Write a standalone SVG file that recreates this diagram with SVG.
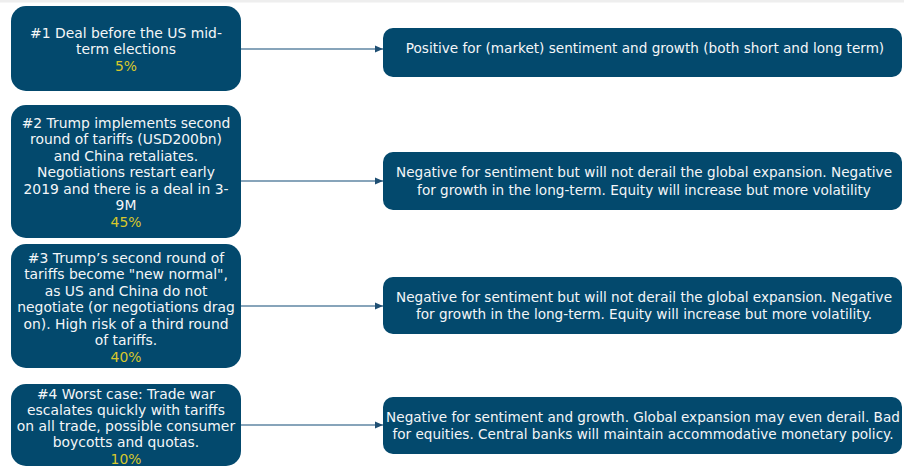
<svg xmlns="http://www.w3.org/2000/svg" width="904" height="467" viewBox="0 0 904 467">
<style>
  .box { fill: #03496d; }
  .t { font-family: "DejaVu Sans", "Liberation Sans", sans-serif; font-size: 13.6px; fill: #f4f6f8; text-anchor: middle; }
  .l { font-size: 13.9px; }
  .p { fill: #d8c72c; }
  .conn { stroke: #5f86a3; stroke-width: 1.3; fill: none; marker-end: url(#arr); }
</style>
<defs>
  <marker id="arr" viewBox="0 0 8 8" refX="8" refY="4" markerWidth="8" markerHeight="8" markerUnits="userSpaceOnUse" orient="auto">
    <path d="M0,0.5 L8,4 L0,7.5 z" fill="#1f4f73"/>
  </marker>
</defs>
<rect x="0" y="0" width="904" height="467" fill="#ffffff"/>
<rect x="0" y="0" width="904" height="2.5" fill="#eeeeee"/>

<g id="connectors">
  <line class="conn" x1="241" y1="49" x2="383" y2="49"/>
  <line class="conn" x1="241" y1="181" x2="383" y2="181"/>
  <line class="conn" x1="241" y1="306" x2="383" y2="306"/>
  <line class="conn" x1="241" y1="425" x2="383" y2="425"/>
</g>

<g id="s1">
  <rect class="box" x="11" y="6" width="230" height="85" rx="15"/>
  <text class="t l" x="126" y="37.5">#1 Deal before the US mid-</text>
  <text class="t l" x="126" y="54">term elections</text>
  <text class="t l p" x="126" y="70.5">5%</text>
</g>

<g id="s2">
  <rect class="box" x="11" y="105" width="230" height="133" rx="15"/>
  <text class="t l" x="126" y="127.5">#2 Trump implements second</text>
  <text class="t l" x="126" y="144">round of tariffs (USD200bn)</text>
  <text class="t l" x="126" y="160.5">and China retaliates.</text>
  <text class="t l" x="126" y="177">Negotiations restart early</text>
  <text class="t l" x="126" y="193.5">2019 and there is a deal in 3-</text>
  <text class="t l" x="126" y="210">9M</text>
  <text class="t l p" x="126" y="226.5">45%</text>
</g>

<g id="s3">
  <rect class="box" x="11" y="244" width="230" height="124" rx="15"/>
  <text class="t l" x="126" y="262.5">#3 Trump’s second round of</text>
  <text class="t l" x="126" y="279">tariffs become "new normal",</text>
  <text class="t l" x="126" y="295.5">as US and China do not</text>
  <text class="t l" x="126" y="312">negotiate (or negotiations drag</text>
  <text class="t l" x="126" y="328.5">on). High risk of a third round</text>
  <text class="t l" x="126" y="345">of tariffs.</text>
  <text class="t l p" x="126" y="361.5">40%</text>
</g>

<g id="s4">
  <rect class="box" x="11" y="384" width="230" height="82" rx="15"/>
  <text class="t l" x="126" y="398.5">#4 Worst case: Trade war</text>
  <text class="t l" x="126" y="414.7">escalates quickly with tariffs</text>
  <text class="t l" x="126" y="431">on all trade, possible consumer</text>
  <text class="t l" x="126" y="447.2">boycotts and quotas.</text>
  <text class="t l p" x="126" y="463.5">10%</text>
</g>

<g id="r1">
  <rect class="box" x="383" y="28" width="519" height="49" rx="10"/>
  <text class="t" x="645" y="52.5">Positive for (market) sentiment and growth (both short and long term)</text>
</g>

<g id="r2">
  <rect class="box" x="383" y="152" width="519" height="58" rx="10"/>
  <text class="t" x="644" y="176.5">Negative for sentiment but will not derail the global expansion. Negative</text>
  <text class="t" x="644" y="194.5">for growth in the long-term. Equity will increase but more volatility</text>
</g>

<g id="r3">
  <rect class="box" x="383" y="277" width="519" height="57" rx="10"/>
  <text class="t" x="644" y="301.5">Negative for sentiment but will not derail the global expansion. Negative</text>
  <text class="t" x="644" y="319">for growth in the long-term. Equity will increase but more volatility.</text>
</g>

<g id="r4">
  <rect class="box" x="383" y="397" width="519" height="57" rx="10"/>
  <text class="t" x="643" y="421.5">Negative for sentiment and growth. Global expansion may even derail. Bad</text>
  <text class="t" x="643" y="439">for equities. Central banks will maintain accommodative monetary policy.</text>
</g>
</svg>
